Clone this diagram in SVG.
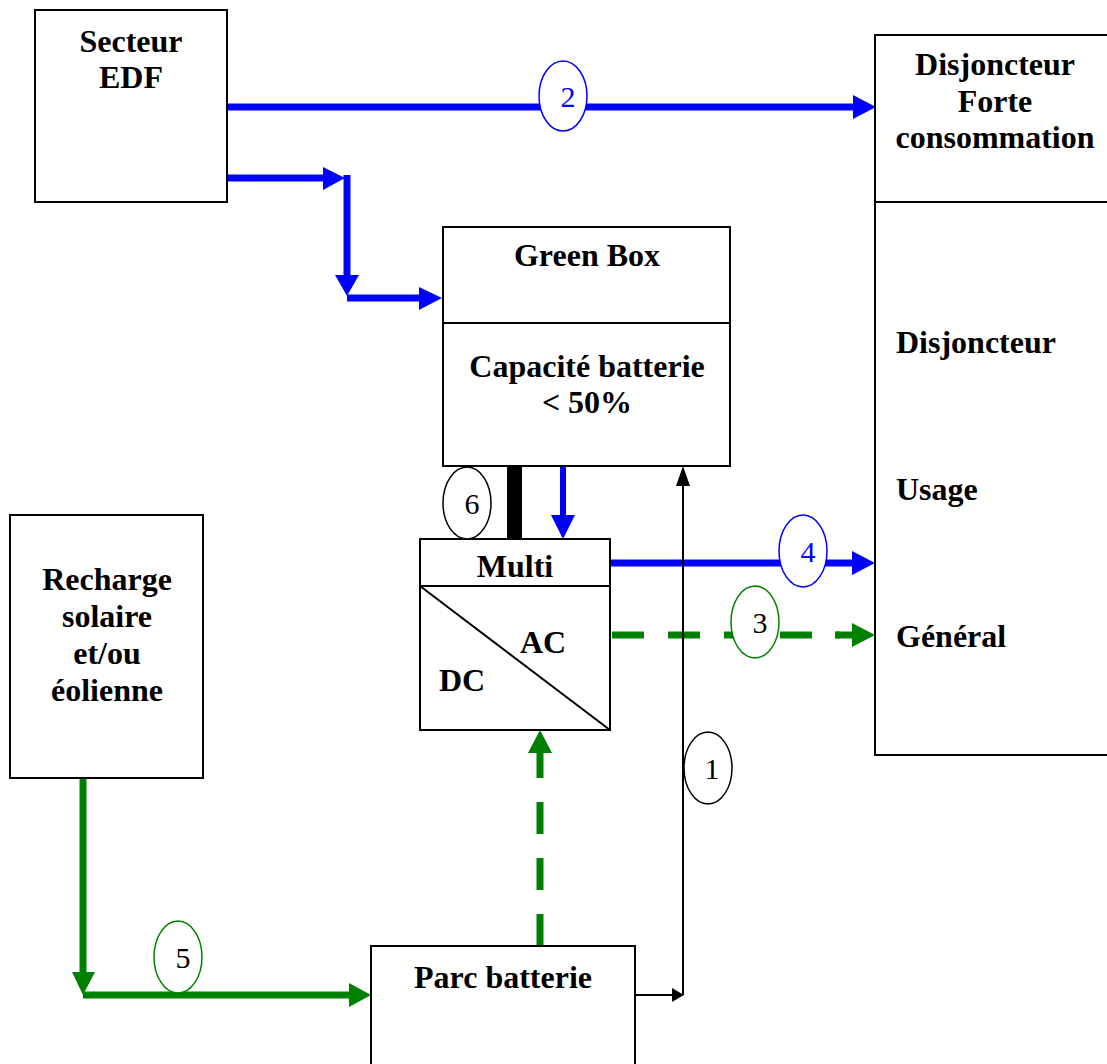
<svg xmlns="http://www.w3.org/2000/svg" width="1107" height="1064" viewBox="0 0 1107 1064">
<style>
.box{fill:#fff;stroke:#000;stroke-width:2}
.t{font-family:"Liberation Serif","Times New Roman",serif;font-weight:bold;font-size:32px;fill:#000}
.n{font-family:"Liberation Serif","Times New Roman",serif;font-size:30px}
.blue{stroke:#0000ff;stroke-width:7;fill:none}
.green{stroke:#008000;stroke-width:7;fill:none}
.gdash{stroke:#008000;stroke-width:7;fill:none;stroke-dasharray:32 24}
.bluef{fill:#0000ff}
.greenf{fill:#008000}
</style>
<rect width="1107" height="1064" fill="#fff"/>
<g id="connectors">
  <line class="blue" x1="227" y1="107" x2="856" y2="107"/>
  <polygon class="bluef" points="853,95 876,107 853,119"/>
  <polyline class="blue" points="227,178 326,178"/>
  <polygon class="bluef" points="323,167 345,178 323,190"/>
  <line class="blue" x1="347" y1="175" x2="347" y2="276"/>
  <polygon class="bluef" points="335,275 347,296 359,275"/>
  <line class="blue" x1="347" y1="298" x2="421" y2="298"/>
  <polygon class="bluef" points="419,287 442,298 419,310"/>
  <line class="blue" x1="563" y1="466" x2="563" y2="517" style="stroke-width:6"/>
  <polygon class="bluef" points="551,515 563,539 575,515"/>
  <rect x="507" y="466" width="15" height="73" fill="#000"/>
  <line class="blue" x1="610" y1="563" x2="854" y2="563"/>
  <polygon class="bluef" points="852,551 875,563 852,575"/>
  <line class="gdash" x1="612" y1="635" x2="840" y2="635"/>
  <line class="green" x1="835" y1="635" x2="854" y2="635"/>
  <polygon class="greenf" points="852,623 875,635 852,647"/>
  <line class="gdash" x1="540" y1="946" x2="540" y2="752"/>
  <polygon class="greenf" points="528,753 540,730 552,753"/>
  <line class="green" x1="83" y1="778" x2="83" y2="974"/>
  <polygon class="greenf" points="72,972 83,995 95,972"/>
  <line class="green" x1="83" y1="995" x2="351" y2="995"/>
  <polygon class="greenf" points="349,983 371,995 349,1007"/>
  <polyline points="635,995 674,995" fill="none" stroke="#000" stroke-width="2"/>
  <polygon points="672,988 684,995 672,1002" fill="#000"/>
  <line x1="683" y1="995" x2="683" y2="484" stroke="#000" stroke-width="2"/>
  <polygon points="676,486 683,466 690,486" fill="#000"/>
</g>
<g id="secteur-edf">
  <rect class="box" x="35" y="10" width="192" height="192"/>
  <text class="t" x="131" y="52" text-anchor="middle">Secteur</text>
  <text class="t" x="131" y="88" text-anchor="middle">EDF</text>
</g>
<g id="disjoncteur">
  <rect class="box" x="875" y="35" width="240" height="720"/>
  <line x1="875" y1="202" x2="1107" y2="202" stroke="#000" stroke-width="2"/>
  <text class="t" x="995" y="75" text-anchor="middle">Disjoncteur</text>
  <text class="t" x="995" y="112" text-anchor="middle">Forte</text>
  <text class="t" x="995" y="148" text-anchor="middle">consommation</text>
  <text class="t" x="896" y="353">Disjoncteur</text>
  <text class="t" x="896" y="500">Usage</text>
  <text class="t" x="896" y="647">Général</text>
</g>
<g id="green-box">
  <rect class="box" x="443" y="227" width="287" height="239"/>
  <line x1="443" y1="323" x2="730" y2="323" stroke="#000" stroke-width="2"/>
  <text class="t" x="587" y="266" text-anchor="middle">Green Box</text>
  <text class="t" x="587" y="377" text-anchor="middle">Capacité batterie</text>
  <text class="t" x="587" y="413" text-anchor="middle">&lt; 50%</text>
</g>
<g id="multi">
  <rect class="box" x="420" y="539" width="190" height="191"/>
  <line x1="420" y1="586" x2="610" y2="586" stroke="#000" stroke-width="2"/>
  <line x1="420" y1="586" x2="610" y2="730" stroke="#000" stroke-width="2"/>
  <text class="t" x="515" y="577" text-anchor="middle">Multi</text>
  <text class="t" x="520" y="653">AC</text>
  <text class="t" x="439" y="691">DC</text>
</g>
<g id="recharge">
  <rect class="box" x="10" y="515" width="193" height="263"/>
  <text class="t" x="107" y="590" text-anchor="middle">Recharge</text>
  <text class="t" x="107" y="627" text-anchor="middle">solaire</text>
  <text class="t" x="107" y="664" text-anchor="middle">et/ou</text>
  <text class="t" x="107" y="701" text-anchor="middle">éolienne</text>
</g>
<g id="parc-batterie">
  <rect class="box" x="371" y="946" width="264" height="130"/>
  <text class="t" x="503" y="988" text-anchor="middle">Parc batterie</text>
</g>
<g id="label-1">
  <ellipse cx="708" cy="768" rx="24" ry="36" fill="#fff" stroke="#000" stroke-width="1.5"/>
  <text class="n" x="712" y="779" text-anchor="middle" fill="#000">1</text>
</g>
<g id="label-2">
  <ellipse cx="563" cy="96" rx="24" ry="35" fill="#fff" stroke="#0000ff" stroke-width="1.5"/>
  <text class="n" x="568" y="107" text-anchor="middle" fill="#0000ff">2</text>
</g>
<g id="label-3">
  <ellipse cx="755" cy="622" rx="24" ry="36" fill="#fff" stroke="#008000" stroke-width="1.5"/>
  <text class="n" x="760" y="633" text-anchor="middle" fill="#000">3</text>
</g>
<g id="label-4">
  <ellipse cx="803" cy="551" rx="24" ry="36" fill="#fff" stroke="#0000ff" stroke-width="1.5"/>
  <text class="n" x="808" y="562" text-anchor="middle" fill="#0000ff">4</text>
</g>
<g id="label-5">
  <ellipse cx="178" cy="957" rx="24" ry="36" fill="#fff" stroke="#008000" stroke-width="1.5"/>
  <text class="n" x="183" y="968" text-anchor="middle" fill="#000">5</text>
</g>
<g id="label-6">
  <ellipse cx="467" cy="503" rx="24" ry="36" fill="#fff" stroke="#000" stroke-width="1.5"/>
  <text class="n" x="472" y="514" text-anchor="middle" fill="#000">6</text>
</g>
</svg>
